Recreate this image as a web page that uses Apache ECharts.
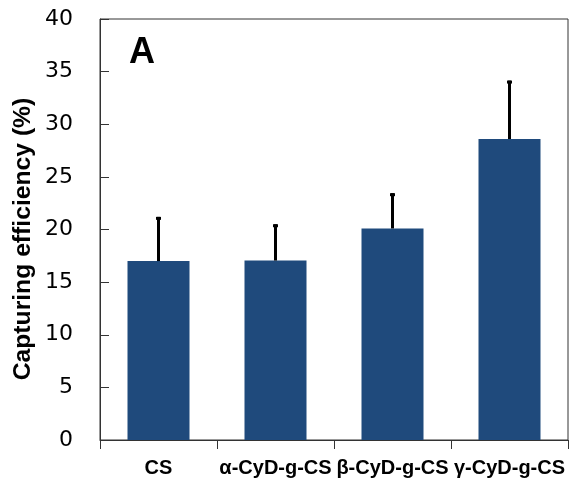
<!DOCTYPE html>
<html>
<head>
<meta charset="utf-8">
<script src="https://cdn.jsdelivr.net/npm/echarts@6/dist/echarts.min.js"></script>
<style>
html,body{margin:0;padding:0;background:#fff;}
#container{width:576px;height:486px;}
</style>
</head>
<body>
<div id="container"></div>
<script>
var categories = ['CS', 'α-CyD-g-CS', 'β-CyD-g-CS', 'γ-CyD-g-CS'];
var efficiency = [17.0, 17.05, 20.1, 28.6];
var errUp = [4.2, 3.45, 3.35, 5.55];
var yTicks = [0, 5, 10, 15, 20, 25, 30, 35, 40];

var errData = [];
for (var i = 0; i < categories.length; i++) {
	errData.push([i, efficiency[i], efficiency[i] + errUp[i]]);
}

var myChart = echarts.init(document.getElementById('container'));
var option = {
	animation: false,
	title: {
		text: 'A',
		left: 124,
		top: 30,
		textStyle: { fontFamily: 'Liberation Sans', fontWeight: 'bold', fontSize: 36, color: '#000' }
	},
	graphic: [{
		// y axis title, rotated
		type: 'text',
		x: 23, y: 239,
		rotation: Math.PI / 2,
		style: {
			text: 'Capturing efficiency (%)',
			fontFamily: 'Liberation Sans', fontWeight: 'bold', fontSize: 24.7, fill: '#000',
			align: 'center', verticalAlign: 'middle'
		}
	}],
	grid: {
		left: 100, right: 8, top: 19, bottom: 46,
		show: true, borderColor: '#333', borderWidth: 1
	},
	xAxis: {
		type: 'category',
		data: categories,
		axisLine: { lineStyle: { color: '#333', width: 1 } },
		axisTick: { show: true, length: 9, lineStyle: { color: '#333' } },
		axisLabel: {
			interval: 0,
			margin: 18,
			fontFamily: 'Liberation Sans', fontWeight: 'bold', fontSize: 20, color: '#000'
		}
	},
	yAxis: {
		type: 'value',
		min: yTicks[0],
		max: yTicks[yTicks.length - 1],
		interval: 5,
		splitLine: { show: false },
		axisLine: { show: true, lineStyle: { color: '#333', width: 1 } },
		axisTick: { show: true, inside: true, length: 9, lineStyle: { color: '#333' } },
		axisLabel: {
			margin: 27,
			fontFamily: 'DejaVu Sans', fontSize: 22, color: '#000'
		}
	},
	series: [{
		type: 'bar',
		data: efficiency,
		barWidth: 62,
		itemStyle: { color: '#1f4a7c' }
	}, {
		type: 'custom',
		data: errData,
		z: 5,
		renderItem: function (params, api) {
			var base = api.coord([api.value(0), api.value(1)]);
			var top = api.coord([api.value(0), api.value(2)]);
			return {
				type: 'group',
				children: [{
					type: 'line',
					shape: { x1: base[0], y1: base[1], x2: top[0], y2: top[1] },
					style: { stroke: '#000', lineWidth: 3 }
				}, {
					type: 'rect',
					shape: { x: top[0] - 2.5, y: top[1], width: 5, height: 3 },
					style: { fill: '#000' }
				}]
			};
		}
	}]
};
myChart.setOption(option);
</script>
</body>
</html>
